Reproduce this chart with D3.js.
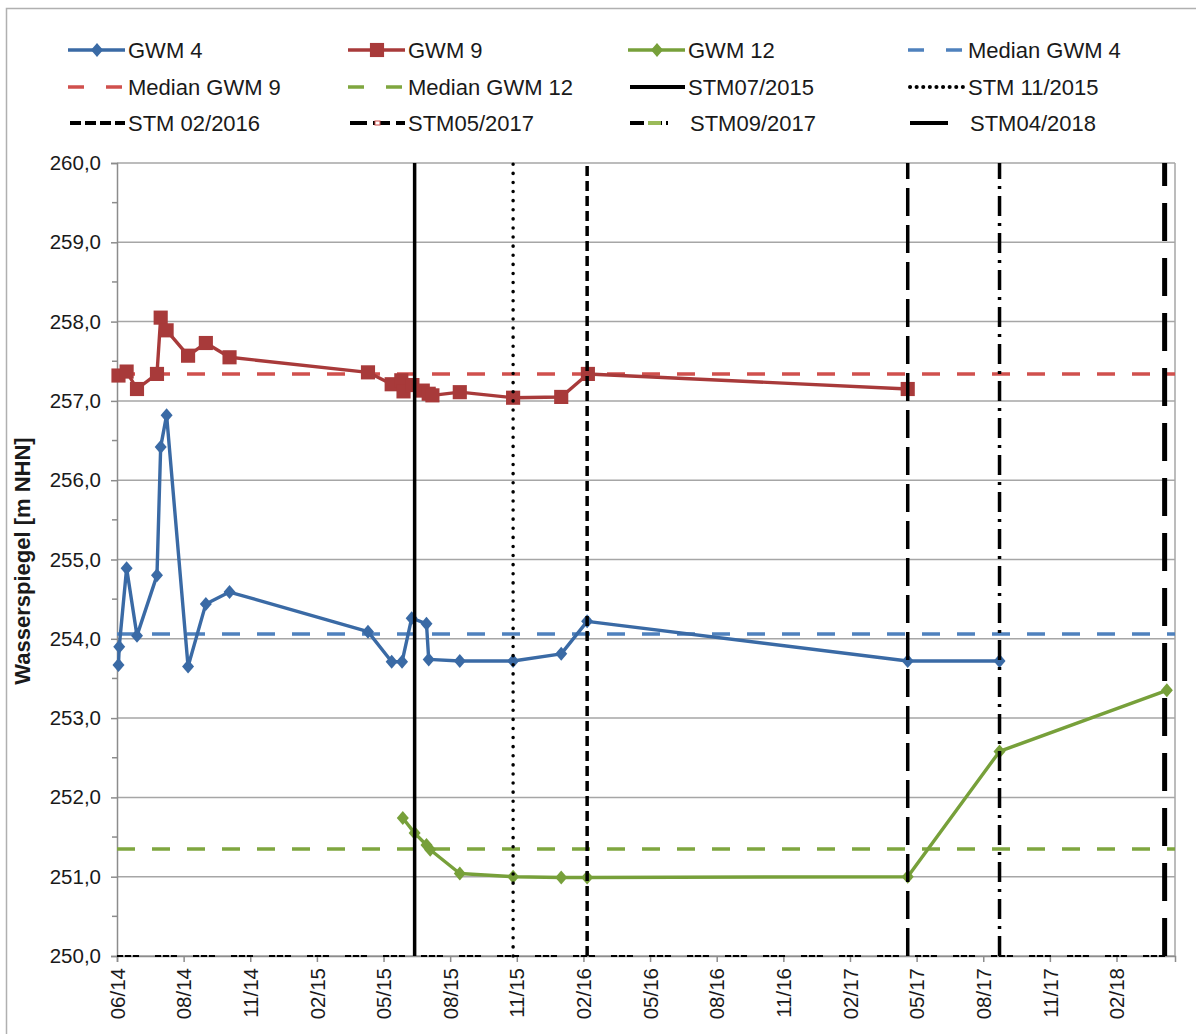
<!DOCTYPE html>
<html>
<head>
<meta charset="utf-8">
<script src="https://cdn.jsdelivr.net/npm/d3@7"></script>
<style>
  body { margin: 0; background: #fff; }
  svg { font-family: "Liberation Sans", Arial, sans-serif; }
</style>
</head>
<body>
<script>
// measured series (date, water level in m NHN)
var gwm4 = [
  ["2014-06-03", 253.67], ["2014-06-04", 253.90], ["2014-06-14", 254.89],
  ["2014-06-28", 254.04], ["2014-07-25", 254.80], ["2014-07-30", 256.42],
  ["2014-08-07", 256.82], ["2014-09-05", 253.65], ["2014-09-29", 254.44],
  ["2014-10-31", 254.59], ["2015-05-06", 254.09], ["2015-06-07", 253.71],
  ["2015-06-21", 253.71], ["2015-07-04", 254.26], ["2015-07-24", 254.19],
  ["2015-07-27", 253.74], ["2015-09-07", 253.72], ["2015-11-18", 253.72],
  ["2016-01-22", 253.81], ["2016-02-26", 254.22], ["2017-05-04", 253.72],
  ["2017-09-05", 253.72]
];
var gwm9 = [
  ["2014-06-03", 257.32], ["2014-06-14", 257.37], ["2014-06-28", 257.15],
  ["2014-07-25", 257.34], ["2014-07-30", 258.05], ["2014-08-07", 257.89],
  ["2014-09-05", 257.57], ["2014-09-29", 257.73], ["2014-10-31", 257.55],
  ["2015-05-06", 257.36], ["2015-06-07", 257.21], ["2015-06-20", 257.26],
  ["2015-06-23", 257.12], ["2015-07-05", 257.20], ["2015-07-19", 257.13],
  ["2015-07-27", 257.09], ["2015-08-01", 257.07], ["2015-09-07", 257.11],
  ["2015-11-18", 257.04], ["2016-01-22", 257.05], ["2016-02-27", 257.34],
  ["2017-05-04", 257.15]
];
var gwm12 = [
  ["2015-06-22", 251.74], ["2015-07-08", 251.55], ["2015-07-24", 251.40],
  ["2015-07-29", 251.34], ["2015-09-07", 251.04], ["2015-11-18", 251.00],
  ["2016-01-22", 250.99], ["2016-02-26", 250.99], ["2017-05-04", 251.00],
  ["2017-09-05", 252.58], ["2018-04-19", 253.35]
];

// medians
var medianNames = ["Median GWM 4", "Median GWM 9", "Median GWM 12"];
var medianValues = [254.06, 257.34, 251.35];

// sampling dates (vertical marker lines)
var stmNames = ["STM07/2015", "STM 11/2015", "STM 02/2016", "STM05/2017", "STM09/2017", "STM04/2018"];
var stmDates = ["2015-07-08", "2015-11-18", "2016-02-26", "2017-05-04", "2017-09-05", "2018-04-16"];

var yTicks = [250, 251, 252, 253, 254, 255, 256, 257, 258, 259, 260];

var parse = d3.utcParse("%Y-%m-%d");
var startDate = parse("2014-06-01");

var margin = {top: 163, left: 117},
    width = 1058,
    height = 793;

var x = d3.scaleUtc()
    .domain([startDate, parse("2018-04-30")])
    .range([0, width]);

var y = d3.scaleLinear()
    .domain([250, 260])
    .range([height, 0]);

var svg = d3.select("body").append("svg")
    .attr("width", 1196)
    .attr("height", 1034);

// outer chart frame
svg.append("rect")
    .attr("x", 6.5).attr("y", 8.5)
    .attr("width", 1200).attr("height", 1040)
    .attr("fill", "none")
    .attr("stroke", "#b0b0b0")
    .attr("stroke-width", 1.5);

var g = svg.append("g")
    .attr("transform", "translate(" + margin.left + "," + margin.top + ")");

// gridlines
g.selectAll(".grid")
    .data(yTicks)
    .enter()
    .append("line")
    .attr("x1", 0).attr("x2", width)
    .attr("y1", function (d) { return y(d); })
    .attr("y2", function (d) { return y(d); })
    .attr("stroke", "#a6a6a6")
    .attr("stroke-width", 1.5);

// plot right border
g.append("line")
    .attr("x1", width).attr("x2", width)
    .attr("y1", 0).attr("y2", height)
    .attr("stroke", "#a6a6a6").attr("stroke-width", 1.5);

// y axis
var yAxis = g.append("g")
    .call(d3.axisLeft(y).tickValues(yTicks).tickSize(6).tickPadding(10)
        .tickFormat(function (d) { return d3.format(".1f")(d).replace(".", ","); }));
yAxis.select(".domain").attr("stroke", "#8c8c8c").attr("stroke-width", 1.5);
yAxis.selectAll(".tick line").attr("stroke", "#8c8c8c").attr("stroke-width", 1.5);
yAxis.selectAll("text").attr("font-size", 20.5).attr("fill", "#1a1a1a")
    .attr("font-family", "Liberation Sans, Arial, sans-serif");

// minor y ticks
g.selectAll(".minor")
    .data(d3.range(250.5, 260, 1))
    .enter()
    .append("line")
    .attr("x1", -5).attr("x2", 0)
    .attr("y1", function (d) { return y(d); })
    .attr("y2", function (d) { return y(d); })
    .attr("stroke", "#8c8c8c").attr("stroke-width", 1.5);

// x axis, every 90 days like the original
var xTickValues = d3.range(16).map(function (i) { return d3.utcDay.offset(startDate, 90 * i); });
var xAxis = g.append("g")
    .attr("transform", "translate(0," + height + ")")
    .call(d3.axisBottom(x).tickValues(xTickValues).tickSize(6)
        .tickFormat(d3.utcFormat("%m/%y")));
xAxis.select(".domain").attr("stroke", "#8c8c8c").attr("stroke-width", 1.5);
xAxis.selectAll(".tick line").attr("stroke", "#8c8c8c").attr("stroke-width", 1.5);
xAxis.selectAll("text")
    .attr("font-size", 20.5).attr("fill", "#1a1a1a")
    .attr("font-family", "Liberation Sans, Arial, sans-serif")
    .attr("transform", "rotate(-90)")
    .attr("text-anchor", "end")
    .attr("dy", "0.35em")
    .attr("x", -12)
    .attr("y", 0);

// y axis title
svg.append("text")
    .attr("transform", "translate(30," + (margin.top + 398) + ") rotate(-90)")
    .attr("text-anchor", "middle")
    .attr("font-size", 22)
    .attr("font-weight", "bold")
    .attr("fill", "#1a1a1a")
    .text("Wasserspiegel [m NHN]");

// dashed baseline bits along the x axis
g.append("line")
    .attr("x1", 0).attr("x2", width)
    .attr("y1", y(250)).attr("y2", y(250))
    .attr("stroke", "#000")
    .attr("stroke-width", 2)
    .attr("stroke-dasharray", "6,2,6,2,6,16");

// median lines
var medianColors = ["#4f81bd", "#d0504d", "#7fa63f"];
g.selectAll(".median")
    .data(medianValues)
    .enter()
    .append("line")
    .attr("x1", 0).attr("x2", width)
    .attr("y1", function (d) { return y(d); })
    .attr("y2", function (d) { return y(d); })
    .attr("stroke", function (d, i) { return medianColors[i]; })
    .attr("stroke-width", 3.5)
    .attr("stroke-dasharray", "18,17");

// series
var line = d3.line()
    .x(function (d) { return x(parse(d[0])); })
    .y(function (d) { return y(d[1]); });

var series = [
  {data: gwm9, color: "#a83a3a", marker: "square", size: 200},
  {data: gwm4, color: "#3a6aa5", marker: "diamond", size: 110},
  {data: gwm12, color: "#77a03a", marker: "diamond", size: 110}
];

function symbolFor(s) {
  if (s.marker == "square") return d3.symbol().type(d3.symbolSquare).size(s.size)();
  return "M0,-7L6,0L0,7L-6,0Z";
}

series.forEach(function (s) {
  g.append("path")
      .datum(s.data)
      .attr("d", line)
      .attr("fill", "none")
      .attr("stroke", s.color)
      .attr("stroke-width", 3.4)
      .attr("stroke-linejoin", "round");
  g.selectAll(null)
      .data(s.data)
      .enter()
      .append("path")
      .attr("transform", function (d) {
        return "translate(" + x(parse(d[0])) + "," + y(d[1]) + ")";
      })
      .attr("d", symbolFor(s))
      .attr("fill", s.color);
});

// STM vertical lines
var stmStyles = [
  {dash: null, w: 3.5, cap: "butt"},
  {dash: "0.1,9", w: 3.5, cap: "round"},
  {dash: "10,5", w: 3.5, cap: "butt"},
  {dash: "28,9", w: 3.5, cap: "butt"},
  {dash: "20,7,3,7", w: 3.5, cap: "butt"},
  {dash: "38,17", w: 5, cap: "butt"}
];
g.selectAll(".stm")
    .data(stmDates)
    .enter()
    .append("line")
    .attr("x1", function (d) { return x(parse(d)); })
    .attr("x2", function (d) { return x(parse(d)); })
    .attr("y1", y(250)).attr("y2", y(260))
    .attr("stroke", "#000")
    .attr("stroke-width", function (d, i) { return stmStyles[i].w; })
    .attr("stroke-linecap", function (d, i) { return stmStyles[i].cap; })
    .attr("stroke-dasharray", function (d, i) { return stmStyles[i].dash; });

// legend
var legendItems = [
  {name: "GWM 4", type: "series", s: series[1]},
  {name: "GWM 9", type: "series", s: series[0]},
  {name: "GWM 12", type: "series", s: series[2]},
  {name: medianNames[0], type: "median", color: medianColors[0]},
  {name: medianNames[1], type: "median", color: medianColors[1]},
  {name: medianNames[2], type: "median", color: medianColors[2]},
  {name: stmNames[0], type: "stm", i: 0},
  {name: stmNames[1], type: "stm", i: 1},
  {name: stmNames[2], type: "stm", i: 2},
  {name: stmNames[3], type: "stm", i: 3},
  {name: stmNames[4], type: "stm", i: 4},
  {name: stmNames[5], type: "stm", i: 5}
];
var colX = [68, 348, 628, 908],
    rowY = [50, 87, 123];

legendItems.forEach(function (it, k) {
  var lx = colX[k % 4], ly = rowY[Math.floor(k / 4)];
  var lg = svg.append("g").attr("transform", "translate(" + lx + "," + ly + ")");
  var textX = 60;
  if (it.type == "series") {
    lg.append("line").attr("x1", 0).attr("x2", 57).attr("y1", 0).attr("y2", 0)
        .attr("stroke", it.s.color).attr("stroke-width", 3.4);
    lg.append("path").attr("transform", "translate(29,0)")
        .attr("d", symbolFor(it.s)).attr("fill", it.s.color);
  } else if (it.type == "median") {
    lg.append("line").attr("x1", 0).attr("x2", 57).attr("y1", 0).attr("y2", 0)
        .attr("stroke", it.color).attr("stroke-width", 3.5)
        .attr("stroke-dasharray", "16,22");
  } else {
    var st = stmStyles[it.i];
    var x2 = 57, dash = st.dash;
    if (it.i == 1) dash = "0.1,6.5";
    if (it.i == 2) dash = "11,4";
    if (it.i == 3) dash = "17,6";
    if (it.i == 4) { x2 = 40; dash = "14,4,14,4,3,4"; textX = 62; }
    if (it.i == 5) { x2 = 40; dash = null; textX = 62; }
    lg.append("line").attr("x1", 2).attr("x2", x2).attr("y1", 0).attr("y2", 0)
        .attr("stroke", "#000").attr("stroke-width", 4)
        .attr("stroke-linecap", st.cap)
        .attr("stroke-dasharray", dash);
    if (it.i == 3) {
      lg.append("rect").attr("x", 27).attr("y", -2).attr("width", 5).attr("height", 4)
          .attr("fill", "#fff").attr("stroke", "#d0504d").attr("stroke-width", 1);
    }
    if (it.i == 4) {
      lg.append("line").attr("x1", 20).attr("x2", 33).attr("y1", 0).attr("y2", 0)
          .attr("stroke", "#9bbb59").attr("stroke-width", 4);
    }
  }
  lg.append("text")
      .attr("x", textX).attr("y", 0)
      .attr("dy", "0.35em")
      .attr("font-size", 22)
      .attr("fill", "#1a1a1a")
      .text(it.name);
});
</script>
</body>
</html>
